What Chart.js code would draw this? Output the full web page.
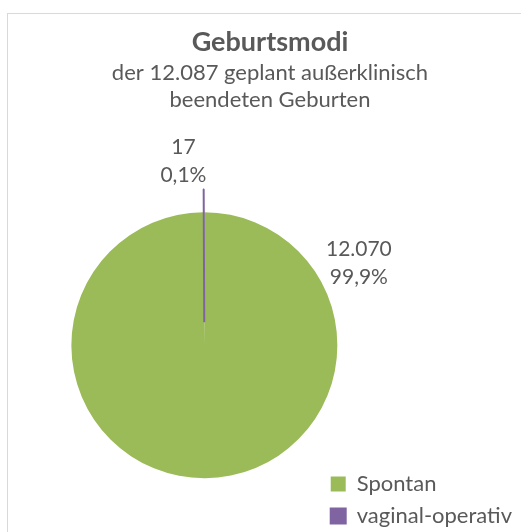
<!DOCTYPE html>
<html lang="de">
<head>
<meta charset="utf-8">
<title>Geburtsmodi</title>
<script src="https://cdn.jsdelivr.net/npm/chart.js@4.4.1/dist/chart.umd.min.js"></script>
<style>
  html, body { margin: 0; padding: 0; background: #fff; overflow: hidden; }
  body { width: 521px; height: 532px; position: relative; }
  #frame {
    position: absolute; left: 7px; top: 13px; width: 560px; height: 560px;
    border: 1px solid #d9d9d9; box-sizing: border-box;
  }
  #wrap { position: absolute; left: 8px; top: 14px; width: 518px; height: 530px; }
</style>
</head>
<body>
<div id="frame"></div>
<div id="wrap"><canvas id="chart"></canvas></div>
<script>
// data
const categories = ['Spontan', 'vaginal-operativ'];
const births = [12070, 17];
const colors = ['#9BBB59', '#8064A2'];
// Chart.js v4 draws arcs shifted by offset / 4, so 92 -> ~23px
const explode = [0, 92];

// where Excel parked the data labels (deg from 12 o'clock, px beyond the rim)
const labelAngle = [62, -6.5];
const labelGap = [42, 52];

const FONT = 'Lato, "Open Sans", sans-serif';
const TEXT = '#595959';

const total = births.reduce((a, b) => a + b, 0);

function fmtInt(n) {
  return String(n).replace(/\B(?=(\d{3})+(?!\d))/g, '.');
}

function fmtPct(f) {
  return (f * 100).toFixed(1).replace('.', ',') + '%';
}

// empty box on the left so the pie sits left of the centred title
const leftGutter = {
  id: 'leftGutter',
  beforeInit(chart) {
    Chart.layouts.addBox(chart, {
      position: 'left',
      weight: 5,
      fullSize: false,
      options: {},
      isHorizontal() { return false; },
      update(maxWidth, maxHeight) {
        this.width = 70;
        this.height = maxHeight;
      },
      draw() {}
    });
  }
};

// v4 also grows an exploded arc's radius by the shift; Excel keeps it the same size
const keepExplodedRadius = {
  id: 'keepExplodedRadius',
  beforeDatasetsDraw(chart) {
    const meta = chart.getDatasetMeta(0);
    const r = meta.controller.outerRadius;
    meta.data.forEach((arc, i) => {
      const shift = explode[i] / 4;
      if (!shift) return;
      const circ = arc.endAngle - arc.startAngle;
      arc.outerRadius = r - shift * (1 - Math.sin(Math.min(Math.PI, circ)));
    });
  }
};

const sliceLabels = {
  id: 'sliceLabels',
  afterDatasetsDraw(chart) {
    const { ctx } = chart;
    const meta = chart.getDatasetMeta(0);
    const r = meta.controller.outerRadius;
    ctx.save();
    ctx.font = `21px ${FONT}`;
    ctx.fillStyle = TEXT;
    ctx.textAlign = 'center';
    ctx.textBaseline = 'middle';
    meta.data.forEach((arc, i) => {
      const a = (labelAngle[i] - 90) * Math.PI / 180;
      const d = r + labelGap[i];
      const x = arc.x + Math.cos(a) * d;
      const y = arc.y + Math.sin(a) * d;
      ctx.fillText(fmtInt(births[i]), x, y - 14);
      ctx.fillText(fmtPct(births[i] / total), x, y + 14);
    });
    ctx.restore();
  }
};

new Chart(document.getElementById('chart'), {
  type: 'pie',
  data: {
    labels: categories,
    datasets: [{
      data: births,
      backgroundColor: colors,
      borderColor: colors,
      borderWidth: [0, 2],
      offset: explode,
      clip: false
    }]
  },
  options: {
    responsive: true,
    maintainAspectRatio: false,
    animation: false,
    events: [],
    radius: 133,
    layout: { padding: { left: 10, right: 4, top: 0, bottom: 7 } },
    plugins: {
      title: {
        display: true,
        text: 'Geburtsmodi',
        color: TEXT,
        font: { family: FONT, size: 27, weight: 'bold' },
        padding: { top: 12, bottom: 0 }
      },
      subtitle: {
        display: true,
        text: ['der 12.087 geplant außerklinisch', 'beendeten Geburten'],
        color: TEXT,
        font: { family: FONT, size: 22, lineHeight: 1.23 },
        padding: { top: 1, bottom: 40 }
      },
      legend: {
        position: 'right',
        align: 'end',
        maxWidth: 260,
        labels: {
          color: TEXT,
          font: { family: FONT, size: 22 },
          boxWidth: 15,
          boxHeight: 15,
          padding: 10
        }
      },
      tooltip: { enabled: false }
    }
  },
  plugins: [leftGutter, keepExplodedRadius, sliceLabels]
});
</script>
</body>
</html>
